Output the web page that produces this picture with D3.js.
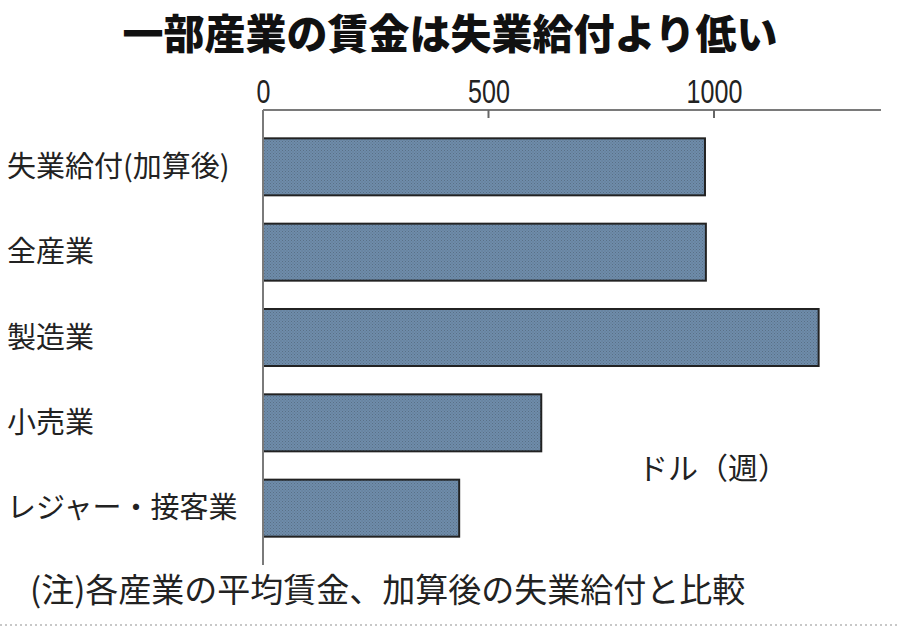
<!DOCTYPE html>
<html><head><meta charset="utf-8">
<script src="https://cdn.jsdelivr.net/npm/d3@7"></script>
<style>
html,body{margin:0;padding:0;background:#fff;}
svg{display:block;}
</style></head>
<body>
<script>
const categories = ["失業給付(加算後)", "全産業", "製造業", "小売業", "レジャー・接客業"];
const values = [980, 982, 1232, 617, 435];
const tickValues = [0, 500, 1000];
const title = "一部産業の賃金は失業給付より低い";
const unitLabel = "ドル（週）";
const note = "(注)各産業の平均賃金、加算後の失業給付と比較";

const W = 900, H = 628;
const svg = d3.select("body").append("svg").attr("width", W).attr("height", H);
const jp = "'Noto Sans CJK JP', 'Noto Sans', sans-serif";

const defs = svg.append("defs");
const pat = defs.append("pattern").attr("id", "dots").attr("patternUnits", "userSpaceOnUse")
  .attr("width", 3).attr("height", 3);
pat.append("rect").attr("width", 3).attr("height", 3).attr("fill", "#6e8cab");
pat.append("rect").attr("x", 0).attr("y", 0).attr("width", 1).attr("height", 1).attr("fill", "#5a7085");
pat.append("rect").attr("x", 1.5).attr("y", 1.5).attr("width", 1).attr("height", 1).attr("fill", "#5c7488");

// title
svg.append("text").attr("x", 450).attr("y", 49).attr("text-anchor", "middle")
  .attr("font-family", jp).attr("font-weight", 900).attr("font-size", 41)
  .attr("fill", "#111").text(title);

const x = d3.scaleLinear().domain([0, 1000]).range([263, 714]);
const y = d3.scaleBand().domain(categories).range([110, 565]).padding(0.332);

// axis line (top)
svg.append("line").attr("x1", x(0)).attr("x2", 881).attr("y1", 110).attr("y2", 110)
  .attr("stroke", "#7a7a7a").attr("stroke-width", 2);
const ax = d3.axisTop(x).tickValues(tickValues).tickFormat(d3.format("d")).tickSize(0).tickPadding(0);
const gAx = svg.append("g").attr("transform", "translate(0,110)").call(ax);
gAx.select(".domain").remove();
gAx.selectAll("text").attr("font-family", "'Liberation Sans', 'DejaVu Sans', sans-serif")
  .attr("font-size", 33).attr("fill", "#222").attr("dy", "-0.2em")
  .attr("transform", "scale(0.76,1)");
// inner tick marks
svg.selectAll(".tk").data(tickValues.filter(d => d > 0)).enter().append("line")
  .attr("x1", d => x(d)).attr("x2", d => x(d)).attr("y1", 110).attr("y2", 118)
  .attr("stroke", "#666").attr("stroke-width", 2);

// bars
svg.selectAll(".bar").data(categories).enter().append("rect")
  .attr("x", x(0)).attr("y", d => y(d))
  .attr("width", (d, i) => x(values[i]) - x(0)).attr("height", y.bandwidth())
  .attr("fill", "url(#dots)").attr("stroke", "#222").attr("stroke-width", 2);

// vertical axis
svg.append("line").attr("x1", x(0)).attr("x2", x(0)).attr("y1", 110).attr("y2", 565)
  .attr("stroke", "#7a7a7a").attr("stroke-width", 2);

// category labels
svg.selectAll(".lab").data(categories).enter().append("text")
  .attr("x", 7).attr("y", d => y(d) + y.bandwidth() / 2).attr("dy", "0.35em")
  .attr("font-family", jp).attr("font-size", 29).attr("fill", "#222").text(d => d);

// unit
svg.append("text").attr("x", 638).attr("y", 479).attr("font-family", jp)
  .attr("font-size", 30).attr("fill", "#222").text(unitLabel);

// note
svg.append("text").attr("x", 30).attr("y", 602).attr("font-family", jp)
  .attr("font-size", 33).attr("fill", "#222").text(note);

// bottom dotted line
svg.append("line").attr("x1", 0).attr("x2", W).attr("y1", 625).attr("y2", 625)
  .attr("stroke", "#c8c8c8").attr("stroke-width", 2).attr("stroke-dasharray", "2,3");
</script>
</body></html>
